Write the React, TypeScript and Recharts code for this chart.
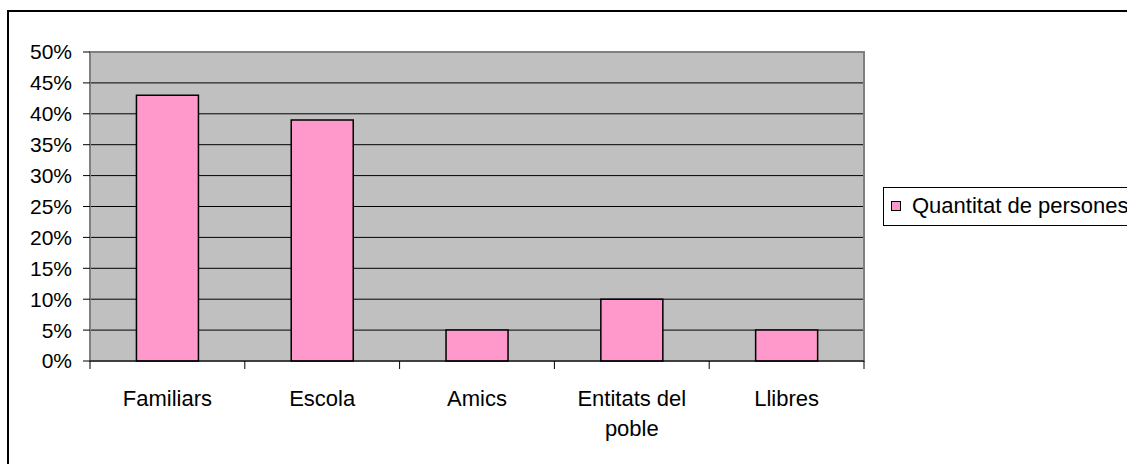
import { BarChart, Bar, XAxis, YAxis, CartesianGrid, Legend, ReferenceArea } from "recharts"

const categories = ["Familiars", "Escola", "Amics", "Entitats del poble", "Llibres"]
const percentages = [43, 39, 5, 10, 5]
const yTicks = [0, 5, 10, 15, 20, 25, 30, 35, 40, 45, 50]
const seriesName = "Quantitat de persones"

const data = categories.map((name, i) => ({ name, value: percentages[i] }))

const FONT = '"Liberation Sans", Arial, sans-serif'
const PINK = "#FF99CC"
const PLOT_BG = "#C0C0C0"

let ctx: CanvasRenderingContext2D | null = null
function wrapWords(text: string, maxWidth: number, fontSize: number) {
  if (!ctx) ctx = document.createElement("canvas").getContext("2d")
  if (!ctx) return [text]
  ctx.font = `${fontSize}px ${FONT}`
  const lines: string[] = []
  let cur = ""
  for (const w of text.split(" ")) {
    const next = cur ? cur + " " + w : w
    if (cur && ctx.measureText(next).width > maxWidth) {
      lines.push(cur)
      cur = w
    } else cur = next
  }
  if (cur) lines.push(cur)
  return lines
}

// category labels plus the tick marks that sit on the category boundaries
function CategoryTick(props: any) {
  const { x, y, payload, index, visibleTicksCount } = props
  const half = payload?.offset ?? 0
  const axisY = y - 29
  const last = index === visibleTicksCount - 1
  const lines = wrapWords(String(payload.value), 150, 22)
  return (
    <g>
      <line x1={x - half} x2={x - half} y1={axisY} y2={axisY + 8} stroke="#000" />
      {last && <line x1={x + half} x2={x + half} y1={axisY} y2={axisY + 8} stroke="#000" />}
      <text x={x} y={y} textAnchor="middle" fontSize={22} fontFamily={FONT} fill="#000">
        {lines.map((l, i) => (
          <tspan key={i} x={x} dy={i === 0 ? "0.71em" : 30}>
            {l}
          </tspan>
        ))}
      </text>
    </g>
  )
}

function LegendBox() {
  return (
    <div
      style={{
        position: "absolute",
        left: 0,
        top: 0,
        width: 260,
        height: 37,
        border: "1px solid #000",
        background: "#fff",
        fontFamily: FONT,
        fontSize: 22,
      }}
    >
      <span
        style={{
          position: "absolute",
          left: 7,
          top: 13,
          width: 8,
          height: 8,
          background: PINK,
          border: "1px solid #000",
        }}
      />
      <span style={{ position: "absolute", left: 28, top: 5, lineHeight: "26px", whiteSpace: "nowrap" }}>
        {seriesName}
      </span>
    </div>
  )
}

export default function App() {
  return (
    <div
      style={{
        position: "fixed",
        left: 0,
        top: 0,
        width: 1127,
        height: 464,
        overflow: "hidden",
        background: "#fff",
      }}
    >
      <div
        style={{
          position: "absolute",
          left: 7,
          top: 10,
          width: 1200,
          height: 600,
          border: "2px solid #000",
        }}
      />
      <div style={{ position: "absolute", left: 0, top: 0 }}>
        <BarChart
          width={1127}
          height={464}
          data={data}
          margin={{ top: 52, right: 263, bottom: 0, left: 0 }}
          barCategoryGap="30%"
        >
          <CartesianGrid vertical={false} stroke="#000" fill={PLOT_BG} fillOpacity={1} />
          <ReferenceArea y1={0} y2={50} fill="none" stroke="#808080" strokeWidth={2} />
          <XAxis
            dataKey="name"
            height={103}
            tickSize={8}
            tickMargin={21}
            tickLine={false}
            axisLine={{ stroke: "#000" }}
            interval={0}
            tick={<CategoryTick />}
          />
          <YAxis
            width={90}
            domain={[0, 50]}
            ticks={yTicks}
            tickFormatter={(v: number) => `${v}%`}
            tickSize={7}
            tickMargin={11}
            axisLine={false}
            tickLine={{ stroke: "#000" }}
            tick={{ fill: "#000", fontSize: 21, fontFamily: FONT }}
          />
          <Legend
            layout="horizontal"
            verticalAlign="middle"
            align="right"
            wrapperStyle={{ left: 883, top: 187, width: 0, height: 0, overflow: "visible" }}
            content={() => <LegendBox />}
          />
          <Bar dataKey="value" name={seriesName} fill={PINK} stroke="#000" strokeWidth={1.5} isAnimationActive={false} />
        </BarChart>
      </div>
    </div>
  )
}
